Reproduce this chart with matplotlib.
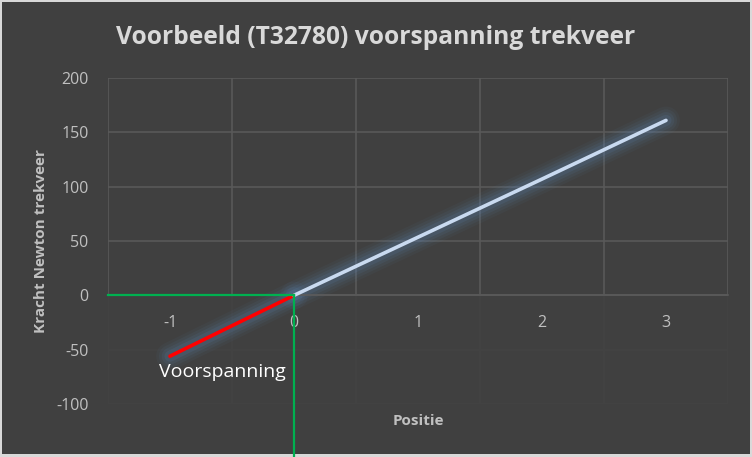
import numpy as np
import matplotlib.pyplot as plt
from matplotlib.patches import Rectangle

# data
positie_voorspanning = [-1, 0]
kracht_voorspanning = [-56, 0]
positie_trekveer = [0, 1, 2, 3]
kracht_trekveer = [0, 53.5, 107, 161]
x_ticks = [-1, 0, 1, 2, 3]
y_ticks = [-100, -50, 0, 50, 100, 150, 200]

bg = '#404040'
grid_col = '#595959'
txt_col = '#c0c0c0'

plt.rcParams['font.family'] = ['Open Sans', 'DejaVu Sans']
plt.rcParams['axes.unicode_minus'] = False

fig = plt.figure(figsize=(7.52, 4.57), dpi=100)
fig.patch.set_facecolor('#d9d9d9')
fig.patches.append(Rectangle((2 / 752, 3 / 457), 748 / 752, 452 / 457,
                             transform=fig.transFigure, facecolor=bg, edgecolor='none', zorder=-10))

ax = fig.add_axes([108 / 752, 1 - 404 / 457, 620 / 752, 326 / 457])
ax.set_facecolor(bg)
ax.set_xlim(-1.5, 3.5)
ax.set_ylim(-100, 200)

ax.set_xticks(x_ticks)
ax.set_yticks(y_ticks)
ax.set_axisbelow(True)
ax.grid(True, axis='y', color=grid_col, lw=1.2)
# vertical gridlines sit between the categories
for xv in np.arange(-1.5, 4.0, 1.0):
    ax.axvline(xv, color=grid_col, lw=1.2, zorder=0.6)
# dim the area below zero
ax.axhspan(-101, -0.8, color=bg, alpha=0.88, zorder=1, lw=0)
ax.xaxis.set_zorder(2)

for s in ['top', 'right', 'left']:
    ax.spines[s].set_visible(False)
ax.spines['bottom'].set_position(('data', 0))
ax.spines['bottom'].set_color(grid_col)
ax.spines['bottom'].set_linewidth(1.2)
ax.tick_params(axis='both', which='both', length=0, colors=txt_col, labelsize=11.5)
ax.tick_params(axis='x', pad=14)
ax.tick_params(axis='y', pad=14)

# glow around the series
for lw, a in [(20, 0.05), (16, 0.07), (12, 0.09), (8, 0.12)]:
    ax.plot(positie_voorspanning, kracht_voorspanning, color='#5f8fc4', lw=lw, alpha=a,
            solid_capstyle='round', zorder=2)
    ax.plot(positie_trekveer, kracht_trekveer, color='#5f8fc4', lw=lw, alpha=a,
            solid_capstyle='round', zorder=2)

ax.plot(positie_voorspanning, kracht_voorspanning, color='#ff0000', lw=2.6,
        solid_capstyle='round', zorder=3)
ax.plot(positie_trekveer, kracht_trekveer, color='#c9daf0', lw=2.6,
        solid_capstyle='round', zorder=4)

# green helper lines
ax.plot([-1.5, 0], [0, 0], color='#00b050', lw=1.6, zorder=5, clip_on=False)
ax.plot([0, 0], [0, -150], color='#00b050', lw=1.6, zorder=5, clip_on=False)

ax.text(-0.58, -71, 'Voorspanning', color='white', fontsize=14, ha='center', va='center', zorder=6)

ax.set_xlabel('Positie', color=txt_col, fontsize=11, fontweight='bold', labelpad=0)
ax.xaxis.set_label_coords(0.5, -10 / 326)
ax.set_ylabel('Kracht Newton trekveer', color=txt_col, fontsize=11, fontweight='bold')
ax.yaxis.set_label_coords(-60 / 620, 0.5)

fig.text(0.5, 1 - 37 / 457, 'Voorbeeld (T32780) voorspanning trekveer', color='#d9d9d9',
         fontsize=17.7, fontweight='bold', ha='center', va='center')

fig.savefig('out.png', dpi=100, facecolor=fig.get_facecolor())
